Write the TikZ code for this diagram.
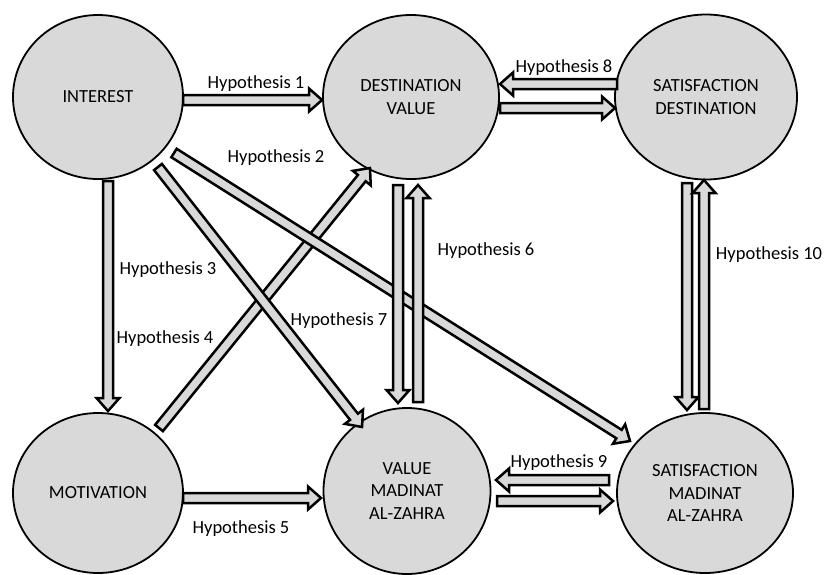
\documentclass[tikz,border=0pt]{standalone}
\usepackage{fontspec}
\setmainfont{Carlito}
\usetikzlibrary{shapes.geometric,calc}

\definecolor{boxgray}{HTML}{D9D9D9}
\tikzset{
	factor/.style={ellipse, draw, line width=1.8pt, fill=boxgray, align=center, inner sep=0pt},
	blockarrow/.style={draw, line width=2.5pt, fill=boxgray, line join=miter},
	hyplabel/.style={anchor=base, inner sep=0pt}
}
% block arrow from #1 to #2
\newcommand\hyparrow[2]{%
	\coordinate (ha) at (#1);
	\coordinate (hb) at (#2);
	\coordinate (hh) at ($(hb)!13pt!(ha)$);
	\draw[blockarrow] ($(ha)!5pt!90:(hb)$) -- ($(hh)!5pt!90:(hb)$) -- ($(hh)!11.5pt!90:(hb)$) -- (hb)
		-- ($(hh)!11.5pt!-90:(hb)$) -- ($(hh)!5pt!-90:(hb)$) -- ($(ha)!5pt!-90:(hb)$) -- cycle;
}

\begin{document}
\begin{tikzpicture}[x=1pt, y=-1pt, font=\fontsize{18.5}{22.5}\selectfont]
		\useasboundingbox (0,0) rectangle (825,574);
		\node[factor, minimum width=170, minimum height=164] (interest) at (98,97) {INTEREST};
		\node[factor, minimum width=176, minimum height=164] (dval) at (411,97) {DESTINATION\\VALUE};
		\node[factor, minimum width=182, minimum height=165] (sdest) at (706,97) {SATISFACTION\\DESTINATION};
		\node[factor, minimum width=170, minimum height=160] (motiv) at (98,493) {MOTIVATION};
		\node[factor, minimum width=167, minimum height=166] (vmad) at (407,491) {VALUE\\MADINAT\\AL-ZAHRA};
		\node[factor, minimum width=176, minimum height=160] (smad) at (705,493) {SATISFACTION\\MADINAT\\AL-ZAHRA};
		\hyparrow{$(motiv)+(61,-65)$}{$(dval)+(-41,71)$}
		\hyparrow{$(interest)+(60,70)$}{$(vmad)+(-45,-64)$}
		\hyparrow{$(interest)+(76,56)$}{$(smad)+(-75,-52)$}
		\hyparrow{$(interest)+(85,3)$}{$(dval)+(-89,3)$}
		\hyparrow{$(interest)+(10,84)$}{$(motiv)+(10,-82)$}
		\hyparrow{$(motiv)+(85,5)$}{$(vmad)+(-86,7)$}
		\hyparrow{$(dval)+(-13,88)$}{$(vmad)+(-9,-88)$}
		\hyparrow{$(vmad)+(11,-89)$}{$(dval)+(7,88)$}
		\hyparrow{$(sdest)+(-89,-13)$}{$(dval)+(89,-13)$}
		\hyparrow{$(dval)+(89,11)$}{$(sdest)+(-91,11)$}
		\hyparrow{$(smad)+(-96,-13)$}{$(vmad)+(89,-11)$}
		\hyparrow{$(vmad)+(90,10)$}{$(smad)+(-92,8)$}
		\hyparrow{$(sdest)+(-19,86)$}{$(smad)+(-18,-83)$}
		\hyparrow{$(smad)+(-1,-84)$}{$(sdest)+(-2,83)$}
		\node[hyplabel] (h1) at (256,88) {Hypothesis 1};
		\node[hyplabel] (h2) at (276,162) {Hypothesis 2};
		\node[hyplabel] (h3) at (168,274) {Hypothesis 3};
		\node[hyplabel] (h4) at (165,343) {Hypothesis 4};
		\node[hyplabel] (h5) at (241,533) {Hypothesis 5};
		\node[hyplabel] (h6) at (486,255) {Hypothesis 6};
		\node[hyplabel] (h7) at (339,325) {Hypothesis 7};
		\node[hyplabel] (h8) at (564,72) {Hypothesis 8};
		\node[hyplabel] (h9) at (559,467) {Hypothesis 9};
		\node[hyplabel] (h10) at (769,259) {Hypothesis 10};
		\end{tikzpicture}
\end{document}
